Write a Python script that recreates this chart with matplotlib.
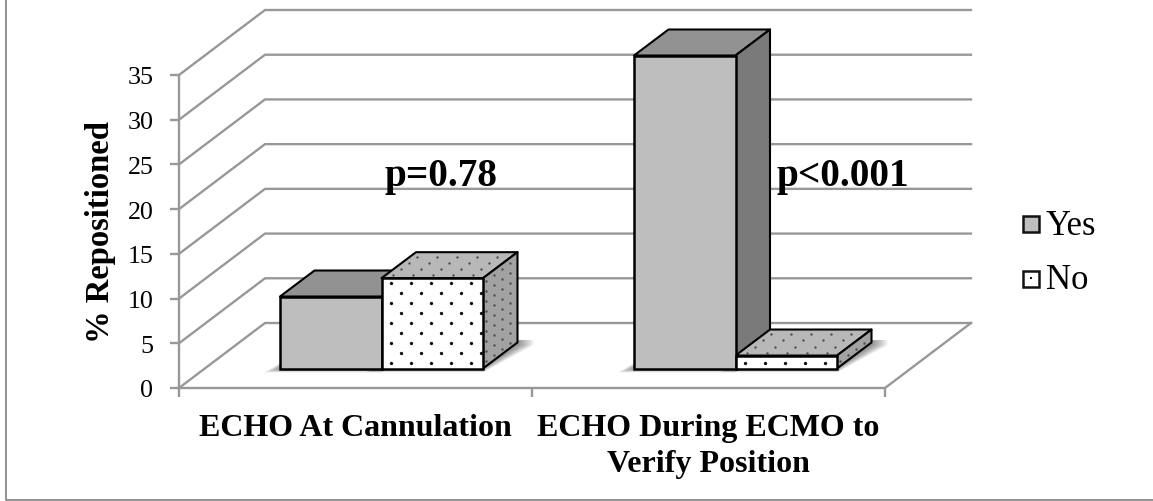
import matplotlib
matplotlib.use('Agg')
import matplotlib.pyplot as plt
from matplotlib.patches import Polygon, Rectangle
from matplotlib.lines import Line2D
import numpy as np

categories = ["ECHO At Cannulation", "ECHO During ECMO to\nVerify Position"]
series_names = ["Yes", "No"]
yes_values = [8.05, 35.0]
no_values = [10.1, 1.45]
p_labels = ["p=0.78", "p<0.001"]
y_ticks = [0, 5, 10, 15, 20, 25, 30, 35]

W, H = 1153, 502
plt.rcParams['font.family'] = ['Liberation Serif', 'DejaVu Serif']
fig = plt.figure(figsize=(W / 100, H / 100), dpi=100)

# plot box is the front plane of the fake 3d chart
left, right, bottom, top = 179, 885, 389, 76
ax = fig.add_axes([left / W, 1 - bottom / H, (right - left) / W, (bottom - top) / H])
ax.set_xlim(-0.5, 1.5)
ax.set_ylim(0, 35)
ax.patch.set_alpha(0)
for s in ['top', 'right', 'left', 'bottom']:
    ax.spines[s].set_visible(False)

px = (right - left) / 2.0   # pixels per category
py = (bottom - top) / 35.0  # pixels per value unit
grid_c = '#989898'


def to_data(dx, dy):
    return dx / px, dy / py


# wall depth and bar depth, in pixels
wx, wy = to_data(86, 65)
bx, by = to_data(34.5, 26)
x0, x1 = -0.5, 1.5

# wall, floor and ticks
for v in y_ticks:
    ax.plot([x0, x0 + wx, x1 + wx], [v, v + wy, v + wy], color=grid_c, lw=1.7, clip_on=False, zorder=1)
ax.plot([x0, x1, x1 + wx], [0, 0, wy], color=grid_c, lw=1.7, clip_on=False, zorder=1)
ax.plot([x0, x0], [0, 35], color=grid_c, lw=1.7, clip_on=False, zorder=1)
ax.set_yticks(y_ticks)
ax.set_xticks([-0.5, 0.5, 1.5])
ax.set_xticklabels([])
ax.tick_params(axis='both', color=grid_c, width=1.7, length=6.5, pad=12)
ax.tick_params(axis='y', labelsize=18.7)
ax.set_ylabel("% Repositioned", fontsize=23.5, fontweight='bold', va='center')
ax.yaxis.set_label_coords((100 - left) / (right - left), 0.5)

label_x = [355, 708]
for i, cat in enumerate(categories):
    ax.text((label_x[i] - left) / px - 0.5, -25 / py, cat, ha='center', va='top',
            fontsize=23, fontweight='bold', linespacing=1.3, clip_on=False)


def dots(p, u, v, color, ms, sx=20, sy=10, a0=9, b0=5.5, stagger=True):
    # dots on the face p + a*u + b*v, every other row shifted on the front face
    ulen = abs(u[0]) * px
    vlen = np.hypot(v[0] * px, v[1] * py)
    xs, ys = [], []
    for r, b in enumerate(np.arange(b0, vlen, sy)):
        shift = (r % 2) * sx / 2 if stagger else 0
        for a in np.arange(a0 + shift, ulen, sx):
            xs.append(p[0] + a / ulen * u[0] + b / vlen * v[0])
            ys.append(p[1] + a / ulen * u[1] + b / vlen * v[1])
    ax.plot(xs, ys, ls='', marker='o', ms=ms, mfc=color, mec='none', zorder=5, clip_on=False)


def shadow(x, w, zs):
    # soft blurred shadow on the floor
    ex, ey = to_data(16, 4)
    for k in range(1, 9):
        f = k / 8.0
        pts = [(x - ex * f, zs - ey * f), (x + w, zs - ey * f),
               (x + w + bx + ex * f, zs + by * 0.9), (x + w + bx + ex * f, zs + by * 1.1), (x + bx, zs + by)]
        ax.add_patch(Polygon(pts, fc='k', ec='none', alpha=0.06, zorder=2, clip_on=False))


def bar3d(x, w, h, front, top_c, side_c, dotted):
    zb = to_data(0, 19.5)[1]
    shadow(x, w, zb)
    faces = [
        ([(x, zb + h), (x + w, zb + h), (x + w + bx, zb + h + by), (x + bx, zb + h + by)], top_c),
        ([(x + w, zb), (x + w + bx, zb + by), (x + w + bx, zb + h + by), (x + w, zb + h)], side_c),
    ]
    for pts, c in faces:
        ax.add_patch(Polygon(pts, fc=c, ec='black', lw=1.5, joinstyle='round', zorder=3, clip_on=False))
    ax.add_patch(Rectangle((x, zb), w, h, fc=front, ec='black', lw=1.8, zorder=4, clip_on=False))
    if dotted:
        dots((x, zb), (w, 0), (0, h), '#111111', 2.4)
        dots((x, zb + h), (w, 0), (bx, by), '#4a4a4a', 1.7, a0=8, b0=5, stagger=False)
        dots((x + w, zb), (bx, by), (0, h), '#4a4a4a', 1.7, sx=8, a0=3, b0=5, stagger=False)


bar_w = 101.5 / px
starts = [(280 - left) / px - 0.5, (634 - left) / px - 0.5]
for i in range(2):
    # yes is drawn first, no sits in front of its side face
    bar3d(starts[i], bar_w, yes_values[i], '#bebebe', '#929292', '#7a7a7a', False)
    bar3d(starts[i] + bar_w, bar_w, no_values[i], 'white', '#b8b8b8', '#a2a2a2', True)

p_x = [441, 843]
for i in range(2):
    ax.text((p_x[i] - left) / px - 0.5, (bottom - 177) / py, p_labels[i], ha='center', va='center',
            fontsize=28.3, fontweight='bold', zorder=6)

# legend
legend_y = [225, 279.5]
baselines = [235, 289]
for name, sy, by0, c in zip(series_names, legend_y, baselines, ['#bebebe', 'white']):
    fig.add_artist(Rectangle((1022.5 / W, 1 - (sy + 8) / H), 16 / W, 16 / H, fc=c, ec='#111111', lw=1.8))
    fig.text(1046 / W, 1 - by0 / H, name, fontsize=25, va='baseline', ha='left')
fig.add_artist(Rectangle((1030 / W, 1 - 280 / H), 2 / W, 2 / H, fc='#111111', ec='none'))

# frame: only the left and bottom edges show in the crop
fig.add_artist(Line2D([6 / W, 6 / W, 1], [1, 1 - 501 / H, 1 - 501 / H], color='#8a8a8a', lw=1.3))

fig.savefig('out.png', dpi=100, facecolor='white')
